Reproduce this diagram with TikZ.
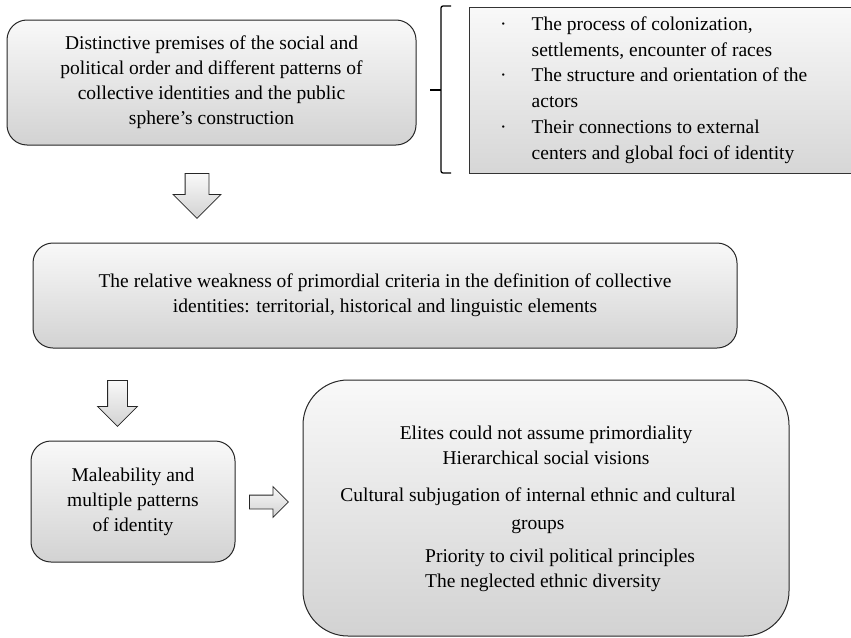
\documentclass[tikz,border=0pt]{standalone}
\usepackage{fontspec}
\setmainfont{Liberation Serif}
\usetikzlibrary{shapes.arrows}
\begin{document}
\begin{tikzpicture}[x=1pt,y=-1pt,
  txt/.style={font=\fontsize{19.5}{25}\selectfont, inner sep=0pt},
  box/.style={txt, draw=black!85, line width=1pt, rounded corners=20pt,
    top color=gray!5, bottom color=gray!35, align=center},
  listbox/.style={draw=black!80, line width=1.2pt,
    top color=gray!5, bottom color=gray!32},
  blockarrow/.style={single arrow, draw=black!85, line width=0.8pt,
    top color=gray!5, bottom color=gray!35, single arrow tip angle=90}
]
\useasboundingbox (0,0) rectangle (851,637);

% top left: premises
\node[box, minimum width=409pt, minimum height=125pt] (premises) at (211.5,82.5)
  {Distinctive premises of the social and\\political order and different patterns of\\collective identities and the public\\sphere’s construction};

% top right: list of factors with its bracket
\node[listbox, minimum width=384pt, minimum height=166pt, anchor=north west] (factors) at (469,7) {};
\node[txt, font=\fontsize{19.5}{25.8}\selectfont, anchor=north west] (factorlist) at (500,12)
  {\begin{tabular}{@{}l@{\hspace{25pt}}l@{}}
   · & The process of colonization,\\
     & settlements, encounter of races\\
   · & The structure and orientation of the\\
     & actors\\
   · & Their connections to external\\
     & centers and global foci of identity
   \end{tabular}};
\draw[line width=1.3pt, rounded corners=2pt] (451,6) -- (441,6) -- (441,173) -- (451,173);
\draw[line width=1.3pt] (441,90) -- (430,90);

% first block arrow
\node[blockarrow, shape border rotate=270, inner sep=11.5pt, minimum height=45pt,
  single arrow head extend=12pt, anchor=tail] (arrowA) at (197,173) {};

% middle: weakness of primordial criteria
\node[box, minimum width=704pt, minimum height=105pt] (weakness) at (385,295.5)
  {The relative weakness of primordial criteria in the definition of collective\\identities: territorial, historical and linguistic elements};

% second block arrow
\node[blockarrow, shape border rotate=270, inner sep=9.5pt, minimum height=46pt,
  single arrow head extend=10pt, anchor=tail] (arrowB) at (117.5,380) {};

% bottom left: maleability
\node[box, minimum width=204pt, minimum height=121pt] (maleability) at (133,501.5)
  {Maleability and\\multiple patterns\\of identity};

% right-pointing block arrow
\node[blockarrow, inner sep=6.5pt, minimum height=39pt,
  single arrow head extend=8.5pt, anchor=tail] (arrowC) at (249,502) {};

% bottom right: consequences
\node[box, rounded corners=45pt, minimum width=486pt, minimum height=256pt] (outcomes) at (546,508) {};
\node[txt, align=center] (elites) at (546,445)
  {Elites could not assume primordiality\\Hierarchical social visions};
\node[txt, align=center, font=\fontsize{19.5}{28}\selectfont] (subjugation) at (538,511)
  {Cultural subjugation of internal ethnic and cultural\\groups};
\node[txt, align=left, anchor=west] (priority) at (425,570)
  {Priority to civil political principles\\The neglected ethnic diversity};
\end{tikzpicture}
\end{document}
